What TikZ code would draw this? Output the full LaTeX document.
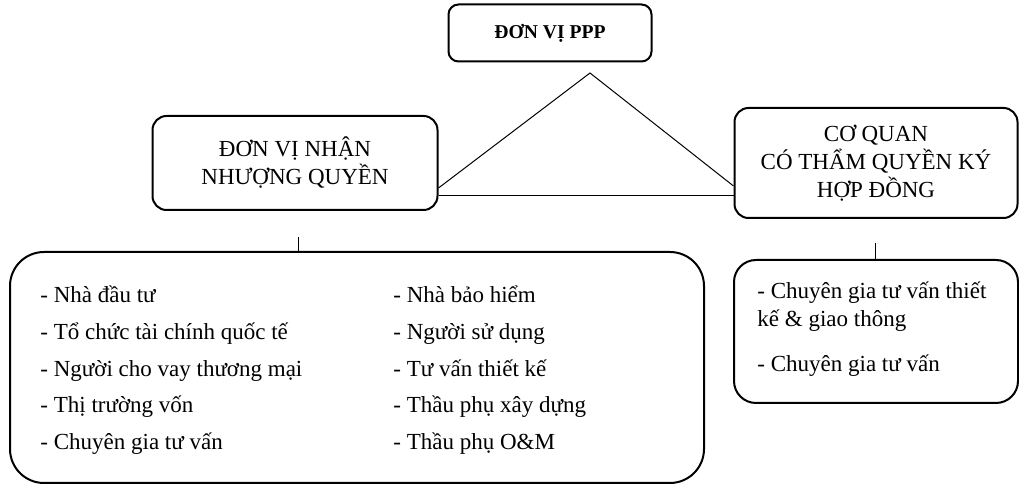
\documentclass[tikz,border=0pt]{standalone}
\usepackage{fontspec}
\setmainfont{Liberation Serif}
\usetikzlibrary{positioning}

\begin{document}
\begin{tikzpicture}[x=0.5pt,y=-0.5pt, every node/.style={font=\fontsize{11.5}{14}\selectfont}]
\tikzstyle{head}=[draw, line width=1pt, rounded corners=7pt, align=center, inner sep=0pt]
\tikzstyle{group}=[draw, line width=1pt, inner sep=0pt]
\tikzstyle{item}=[anchor=base west, inner sep=0pt]
\tikzstyle{link}=[line width=0.5pt]
\useasboundingbox (0,0) rectangle (1019,485);
% headings
\node[head, rounded corners=5pt, minimum width=101.5pt, minimum height=28.5pt, font=\bfseries\fontsize{9.8}{12}\selectfont] (ppp) at (550,33) {ĐƠN VỊ PPP};
\node[head, minimum width=142.5pt, minimum height=47pt] (dvn) at (295,163) {ĐƠN VỊ NHẬN\\NHƯỢNG QUYỀN};
\node[head, minimum width=141.5pt, minimum height=55pt] (cq) at (876,163) {CƠ QUAN\\CÓ THẨM QUYỀN KÝ\\HỢP ĐỒNG};
% triangle
\coordinate (apex) at (590,73);
\draw[link] (apex) -- ([yshift=-12.5pt]dvn.east);
\draw[link] (apex) -- ([yshift=-11.5pt]cq.west);
\draw[link] ([yshift=-16.5pt]dvn.east) -- ([yshift=-16.5pt]cq.west);
% member boxes
\node[group, rounded corners=17pt, minimum width=347pt, minimum height=115.5pt] (lst) at (357,367.5) {};
\node[group, rounded corners=11pt, minimum width=142pt, minimum height=71.5pt] (rlst) at (876,331.5) {};
\coordinate (ltick) at (298,237);
\draw[link] (ltick) -- (ltick |- lst.north);
\coordinate (rtick) at (875,243);
\draw[link] (rtick) -- (rtick |- rlst.north);
% members
\foreach \y/\a/\b [count=\i] in {303/Nhà đầu tư/Nhà bảo hiểm,
  340/Tổ chức tài chính quốc tế/Người sử dụng,
  377/Người cho vay thương mại/Tư vấn thiết kế,
  413/Thị trường vốn/Thầu phụ xây dựng,
  450/Chuyên gia tư vấn/Thầu phụ O\&M}{
  \node[item] (l\i) at (40,\y) {- \a};
  \node[item] (r\i) at (393,\y) {- \b};
}
\node[item, align=left] (rl1) at (757,327) {- Chuyên gia tư vấn thiết\\kế \& giao thông};
\node[item] (rl2) at (757,372) {- Chuyên gia tư vấn};
\end{tikzpicture}
\end{document}
